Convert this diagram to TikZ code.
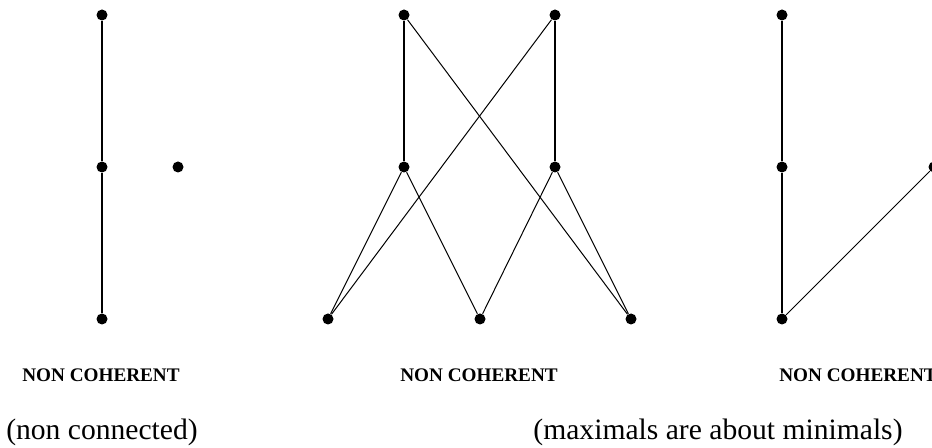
\documentclass[tikz,border=0pt]{standalone}
\usepackage{fontspec}
\setmainfont{Liberation Serif}
\begin{document}
\begin{tikzpicture}[x=0.5pt, y=-0.5pt,
    dot/.style={circle, fill=black, inner sep=0pt, minimum size=5.5pt},
    chain/.style={line width=1.4pt},
    cover/.style={line width=0.5pt},
    tag/.style={font=\fontsize{9.6}{11}\selectfont\bfseries},
    note/.style={font=\fontsize{14.8}{17}\selectfont}]
    \useasboundingbox (0,0) rectangle (932,448);

    % left poset
    \node[dot] (l1) at (102,15) {};
    \node[dot] (l2) at (102,167) {};
    \node[dot] (l3) at (102,319) {};
    \node[dot] (l4) at (178,167) {};
    \draw[chain] (l1) -- (l2) -- (l3);

    % middle poset
    \node[dot] (m1) at (404,15) {};
    \node[dot] (m2) at (555,15) {};
    \node[dot] (m3) at (404,167) {};
    \node[dot] (m4) at (555,167) {};
    \node[dot] (m5) at (328,319) {};
    \node[dot] (m6) at (480,319) {};
    \node[dot] (m7) at (631,319) {};
    \draw[chain] (m1) -- (m3);
    \draw[chain] (m2) -- (m4);
    \draw[cover] (m1) -- (m7);
    \draw[cover] (m2) -- (m5);
    \draw[cover] (m3) -- (m5);
    \draw[cover] (m3) -- (m6);
    \draw[cover] (m4) -- (m6);
    \draw[cover] (m4) -- (m7);

    % right poset
    \node[dot] (r1) at (782,15) {};
    \node[dot] (r2) at (782,167) {};
    \node[dot] (r3) at (782,319) {};
    \node[dot] (r4) at (934,167) {};
    \draw[chain] (r1) -- (r2) -- (r3);
    \draw[cover] (r3) -- (r4);

    \node[tag] (t1) at (101,375) {NON COHERENT};
    \node[tag] (t2) at (479,375) {NON COHERENT};
    \node[tag] (t3) at (858,375) {NON COHERENT};
    \node[note] (n1) at (102,432) {(non connected)};
    \node[note] (n2) at (718,432) {(maximals are about minimals)};
\end{tikzpicture}
\end{document}
